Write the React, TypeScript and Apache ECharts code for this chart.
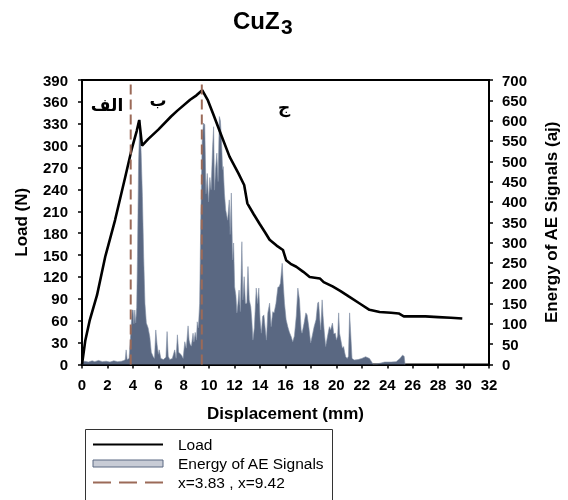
import React, { useEffect, useRef } from "react";
import * as echarts from "echarts";

// Load curve (displacement mm, load N)
const loadX = [0, 0.26, 0.6, 1.18, 1.83, 2.6, 3.4, 3.92, 4.3, 4.5, 4.72, 5.2, 6.0, 7.0, 7.5, 8.5, 9.0, 9.45, 9.9, 10.3, 10.8, 11.6, 12.3, 12.75, 13.0, 13.5, 13.96, 14.4, 14.75, 15.3, 15.8, 16.05, 16.4, 16.85, 17.4, 17.9, 18.3, 18.7, 19.0, 19.7, 20.3, 21.0, 21.8, 22.6, 23.4, 24.3, 24.9, 25.3, 26.0, 27.0, 28.0, 29.0, 29.9];
const loadY = [0, 33, 60, 95, 148, 198, 257, 296, 320, 335, 300, 309, 322, 340, 348, 363, 369, 376, 362, 344, 321, 285, 262, 246, 221, 206, 193, 181, 171, 163, 157, 143, 138, 134, 127, 120, 119, 118, 113, 107, 101, 93, 84, 75, 72, 71, 70, 66, 66, 66, 65, 64, 63];

// Energy of AE signals (displacement mm, energy aj)
const aeX = [0, 0.2, 0.5, 0.8, 1.0, 1.3, 1.6, 1.9, 2.2, 2.5, 2.8, 3.1, 3.3, 3.4, 3.47, 3.55, 3.7, 3.8, 3.88, 3.95, 4.02, 4.08, 4.15, 4.22, 4.3, 4.36, 4.45, 4.55, 4.65, 4.75, 4.85, 4.95, 5.06, 5.2, 5.33, 5.45, 5.6, 5.7, 5.8, 5.9, 6.0, 6.07, 6.2, 6.4, 6.6, 6.69, 6.78, 6.9, 7.1, 7.29, 7.4, 7.5, 7.6, 7.8, 7.95, 8.08, 8.2, 8.34, 8.42, 8.5, 8.6, 8.73, 8.8, 8.9, 9.0, 9.06, 9.15, 9.25, 9.35, 9.45, 9.55, 9.65, 9.75, 9.85, 9.95, 10.05, 10.15, 10.27, 10.35, 10.42, 10.5, 10.6, 10.7, 10.8, 10.88, 10.97, 11.05, 11.1, 11.2, 11.3, 11.45, 11.58, 11.65, 11.74, 11.84, 11.92, 12.0, 12.1, 12.18, 12.26, 12.35, 12.45, 12.57, 12.65, 12.75, 12.85, 12.96, 13.05, 13.15, 13.27, 13.35, 13.44, 13.55, 13.7, 13.8, 13.9, 14.0, 14.1, 14.2, 14.3, 14.4, 14.5, 14.61, 14.75, 14.87, 15.0, 15.1, 15.25, 15.4, 15.5, 15.6, 15.74, 15.82, 15.92, 16.05, 16.18, 16.3, 16.45, 16.57, 16.7, 16.85, 16.97, 17.1, 17.23, 17.3, 17.45, 17.6, 17.7, 17.83, 17.98, 18.1, 18.25, 18.4, 18.53, 18.6, 18.7, 18.77, 18.88, 18.95, 19.05, 19.16, 19.25, 19.35, 19.45, 19.55, 19.69, 19.8, 19.92, 20.0, 20.1, 20.18, 20.25, 20.35, 20.47, 20.57, 20.65, 20.73, 20.85, 20.95, 21.04, 21.12, 21.23, 21.4, 21.7, 22.0, 22.3, 22.6, 22.8, 22.9, 23.3, 23.8, 24.3, 24.7, 25.0, 25.2, 25.33, 25.4];
const aeY = [5, 8, 6, 9, 7, 10, 7, 8, 6, 9, 7, 8, 10, 12, 36, 12, 15, 60, 102, 134, 134, 100, 134, 102, 140, 265, 500, 603, 520, 413, 265, 150, 102, 90, 68, 30, 19, 15, 85, 50, 25, 36, 15, 12, 18, 81, 20, 12, 15, 36, 15, 73, 30, 24, 15, 56, 40, 95, 60, 50, 45, 77, 55, 79, 60, 105, 90, 151, 380, 550, 594, 590, 420, 470, 400, 460, 430, 536, 585, 429, 480, 520, 450, 610, 600, 552, 480, 487, 420, 380, 355, 405, 320, 422, 257, 299, 191, 170, 127, 150, 183, 130, 302, 159, 216, 150, 151, 241, 159, 142, 110, 60, 90, 188, 150, 188, 110, 77, 118, 122, 90, 60, 127, 151, 93, 130, 127, 150, 190, 191, 200, 249, 200, 151, 110, 93, 80, 68, 56, 70, 120, 188, 159, 85, 77, 100, 127, 122, 93, 53, 70, 93, 110, 151, 154, 110, 85, 159, 120, 80, 44, 60, 77, 93, 85, 102, 75, 77, 60, 70, 127, 77, 60, 40, 44, 30, 19, 15, 20, 127, 80, 15, 11, 12, 15, 19, 15, 5, 0, 2, 6, 6, 7, 15, 23, 20, 0];

// Vertical marker lines
const markerX = [3.83, 9.42];
const markerTop = 385;

const xTicks = { min: 0, max: 32, interval: 2 };
const loadTicks = { min: 0, max: 390, interval: 30 };
const aeTicks = { min: 0, max: 700, interval: 50 };

const phaseLabels = ["الف", "ب", "ج"];

const LOAD = "Load";
const AE = "Energy of AE Signals";
const MARK = "x=3.83 , x=9.42";

export default function App() {
  const ref = useRef<HTMLDivElement>(null);
  useEffect(() => {
    if (!ref.current) return;
    const chart = echarts.init(ref.current, undefined, { renderer: "svg" });
    const font = "'Liberation Sans', Arial, sans-serif";
    const axisLabel = { fontFamily: font, fontSize: 15, fontWeight: "bold" as const, color: "#000" };
    const nameStyle = { fontFamily: font, fontSize: 17, fontWeight: "bold" as const, color: "#000" };
    const markerSeries = markerX.map((mx) => ({
      name: MARK,
      type: "line" as const,
      data: [[mx, 0], [mx, markerTop]],
      symbol: "none",
      lineStyle: { color: "#9b6a58", width: 2, type: [10, 5] as any },
      z: 5,
    }));
    chart.setOption({
      animation: false,
      grid: { left: 82, right: 78, top: 80, bottom: 135.5, show: true, borderColor: "#000", borderWidth: 2, backgroundColor: "transparent" },
      xAxis: {
        type: "value",
        ...xTicks,
        name: "Displacement (mm)",
        nameLocation: "middle",
        nameGap: 40,
        nameTextStyle: nameStyle,
        axisLine: { lineStyle: { color: "#000", width: 2 } },
        axisTick: { show: true, length: 4, lineStyle: { color: "#000", width: 1.5 } },
        axisLabel: { ...axisLabel, margin: 12 },
        splitLine: { show: false },
      },
      yAxis: [
        {
          type: "value",
          ...loadTicks,
          name: "Load (N)",
          nameLocation: "middle",
          nameGap: 52,
          nameTextStyle: nameStyle,
          axisLine: { show: true, lineStyle: { color: "#000", width: 2 } },
          axisTick: { show: true, length: 4, lineStyle: { color: "#000", width: 1.5 } },
          axisLabel: { ...axisLabel, margin: 14 },
          splitLine: { show: false },
        },
        {
          type: "value",
          ...aeTicks,
          position: "right",
          name: "Energy of AE Signals (aj)",
          nameLocation: "middle",
          nameGap: 54,
          nameTextStyle: nameStyle,
          axisLine: { show: true, lineStyle: { color: "#000", width: 2 } },
          axisTick: { show: true, length: 4, lineStyle: { color: "#000", width: 1.5 } },
          axisLabel: { ...axisLabel, margin: 13 },
          splitLine: { show: false },
        },
      ],
      legend: {
        orient: "vertical",
        left: 92,
        top: 436,
        padding: 0,
        itemWidth: 70,
        itemHeight: 7,
        itemGap: 2,
        textStyle: { fontFamily: font, fontSize: 15.5, color: "#000", lineHeight: 17, padding: [0, 0, 0, 10] },
        data: [
          { name: LOAD, itemStyle: { opacity: 0 } },
          { name: AE, icon: "rect", itemStyle: { color: "#c8ccd6", borderColor: "#5a6882", borderWidth: 1 } },
          { name: MARK, itemStyle: { opacity: 0 }, lineStyle: { type: [18, 8], width: 2, color: "#9b6a58" } },
        ],
      },
      graphic: [
        { type: "rect", shape: { x: 85.5, y: 429.5, width: 247, height: 100 }, style: { fill: "none", stroke: "#333", lineWidth: 1 }, silent: true },
        { type: "text", x: 233, y: 20, style: { text: "CuZ", fontFamily: font, fontSize: 24, fontWeight: "bold", fill: "#000", verticalAlign: "middle", align: "left" } },
        { type: "text", x: 281, y: 26, style: { text: "3", fontFamily: font, fontSize: 21, fontWeight: "bold", fill: "#000", verticalAlign: "middle", align: "left" } },
        { type: "text", x: 107, y: 105, style: { text: phaseLabels[0], fontFamily: "'DejaVu Sans', sans-serif", fontSize: 17, fontWeight: "bold", fill: "#000", align: "center", verticalAlign: "middle" } },
        { type: "text", x: 158, y: 100, style: { text: phaseLabels[1], fontFamily: "'DejaVu Sans', sans-serif", fontSize: 17, fontWeight: "bold", fill: "#000", align: "center", verticalAlign: "middle" } },
        { type: "text", x: 284, y: 107, style: { text: phaseLabels[2], fontFamily: "'DejaVu Sans', sans-serif", fontSize: 17, fontWeight: "bold", fill: "#000", align: "center", verticalAlign: "middle" } },
      ],
      series: [
        {
          name: AE,
          type: "line",
          yAxisIndex: 1,
          data: aeX.map((x, i) => [x, aeY[i]]),
          symbol: "none",
          lineStyle: { color: "#8390a6", width: 0.6 },
          areaStyle: { color: "#5a6882", opacity: 1 },
          itemStyle: { color: "#5a6882" },
          z: 2,
        },
        {
          name: LOAD,
          type: "line",
          yAxisIndex: 0,
          data: loadX.map((x, i) => [x, loadY[i]]),
          symbol: "none",
          lineStyle: { color: "#000", width: 2.6 },
          itemStyle: { color: "#000" },
          z: 4,
        },
        ...markerSeries,
      ],
    });
    return () => chart.dispose();
  }, []);
  return <div ref={ref} style={{ position: "fixed", left: 0, top: 0, width: 568, height: 500 }} />;
}
